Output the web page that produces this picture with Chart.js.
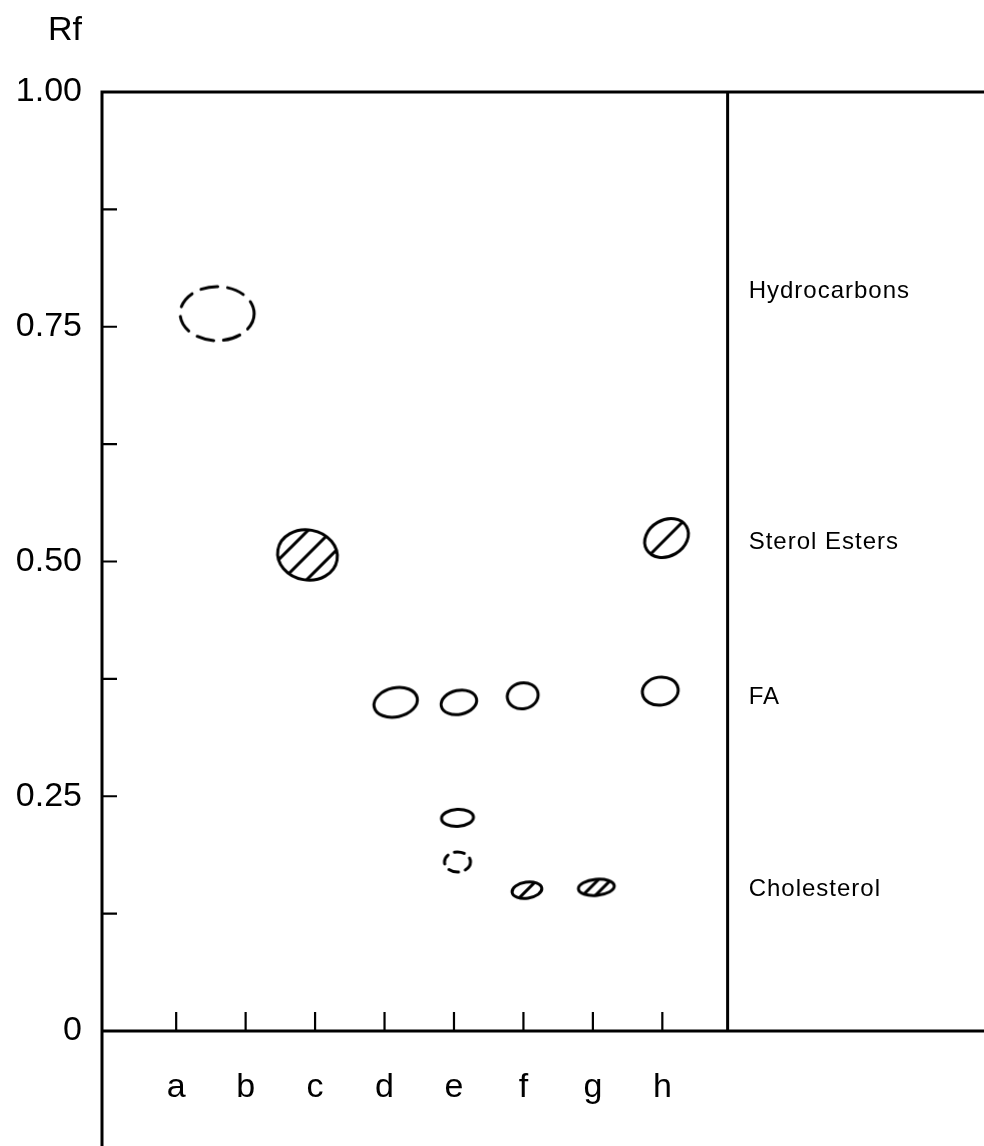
<!DOCTYPE html>
<html lang="en">
<head>
    <meta charset="UTF-8">
    <title>TLC plate</title>
    <style>
        body {
            margin: 0;
            background: #fff;
        }
        #wrap {
            width: 984px;
            height: 1146px;
        }
    </style>
</head>
<body>
    <div id="wrap">
        <canvas id="plate" width="984" height="1146"></canvas>
    </div>

    <script src="https://cdn.jsdelivr.net/npm/chart.js"></script>
    <script>
        // lanes on the plate
        const laneLabels = ['a', 'b', 'c', 'd', 'e', 'f', 'g', 'h'];
        const lanePos = [1, 2, 3, 4, 5, 6, 7, 8];

        // Rf axis
        const rfTicks = [0, 0.25, 0.5, 0.75, 1];
        const rfTickLabels = ['0', '0.25', '0.50', '0.75', '1.00'];
        const rfMinor = [0.125, 0.25, 0.375, 0.5, 0.625, 0.75, 0.875];

        // reference compounds on the right side
        const compoundNames = ['Hydrocarbons', 'Sterol Esters', 'FA', 'Cholesterol'];
        const compoundRf = [0.788, 0.52, 0.355, 0.151];

        // spots: lane position and Rf
        const spotLane = [1.59, 2.89, 4.16, 5.07, 5.99, 7.97, 5.05, 5.05, 6.05, 7.05, 8.06];
        const spotRf = [0.764, 0.507, 0.350, 0.350, 0.357, 0.362, 0.227, 0.180, 0.150, 0.153, 0.525];

        // where the plate ends (lane units)
        const plateEdge = 8.94;

        // how each spot looks
        const spotLook = [
            { rx: 37, ry: 27, rot: 0, kind: 'dashed', dash: [17, 10] },
            { rx: 30, ry: 25, rot: 10, kind: 'hatch', lines: [-17, 0, 17] },
            { rx: 22, ry: 14.5, rot: -12, kind: 'open' },
            { rx: 18, ry: 12, rot: -12, kind: 'open' },
            { rx: 15.5, ry: 13, rot: -10, kind: 'open' },
            { rx: 18, ry: 14, rot: -8, kind: 'open' },
            { rx: 16, ry: 8.5, rot: -3, kind: 'open' },
            { rx: 13, ry: 10, rot: 0, kind: 'dashed', dash: [10, 7] },
            { rx: 15, ry: 8, rot: -8, kind: 'hatch', lines: [0] },
            { rx: 18, ry: 8, rot: -5, kind: 'hatch', lines: [-4, 5] },
            { rx: 23, ry: 18, rot: -30, kind: 'hatch', lines: [0] }
        ];

        const FONT = '"Liberation Sans", Arial, sans-serif';

        function makeSpot(look) {
            const size = Math.ceil(2 * Math.max(look.rx, look.ry) + 10);
            const c = document.createElement('canvas');
            c.width = size;
            c.height = size;
            const g = c.getContext('2d');
            const m = size / 2;
            g.strokeStyle = '#000';
            g.lineWidth = 3;
            g.lineCap = 'round';
            const rot = look.rot * Math.PI / 180;

            if (look.kind === 'hatch') {
                g.save();
                g.beginPath();
                g.ellipse(m, m, look.rx, look.ry, rot, 0, Math.PI * 2);
                g.clip();
                look.lines.forEach(o => {
                    const px = m + o / Math.SQRT2;
                    const py = m + o / Math.SQRT2;
                    g.beginPath();
                    g.moveTo(px - size, py + size);
                    g.lineTo(px + size, py - size);
                    g.stroke();
                });
                g.restore();
            }

            g.beginPath();
            if (look.kind === 'dashed') {
                g.setLineDash(look.dash);
            }
            g.ellipse(m, m, look.rx, look.ry, rot, 0, Math.PI * 2);
            g.stroke();
            return c;
        }

        const spotImages = spotLook.map(makeSpot);

        const framePlugin = {
            id: 'plateFrame',
            beforeDatasetsDraw(chart) {
                const ctx = chart.ctx;
                const area = chart.chartArea;
                const xs = chart.scales.x;
                const ys = chart.scales.y;
                const sep = xs.getPixelForValue(plateEdge);

                ctx.save();
                ctx.strokeStyle = '#000';
                ctx.lineCap = 'square';
                ctx.lineWidth = 3;
                ctx.beginPath();
                // left edge runs down past the origin
                ctx.moveTo(area.left, area.top);
                ctx.lineTo(area.left, chart.height);
                // solvent front and origin
                ctx.moveTo(area.left, area.top);
                ctx.lineTo(chart.width, area.top);
                ctx.moveTo(area.left, area.bottom);
                ctx.lineTo(chart.width, area.bottom);
                // separator
                ctx.moveTo(sep, area.top);
                ctx.lineTo(sep, area.bottom);
                ctx.stroke();

                ctx.lineWidth = 2.2;
                ctx.lineCap = 'butt';
                ctx.beginPath();
                rfMinor.forEach(v => {
                    const y = ys.getPixelForValue(v);
                    ctx.moveTo(area.left, y);
                    ctx.lineTo(area.left + 15, y);
                });
                lanePos.forEach(v => {
                    const x = xs.getPixelForValue(v);
                    ctx.moveTo(x, area.bottom);
                    ctx.lineTo(x, area.bottom - 19);
                });
                ctx.stroke();

                ctx.fillStyle = '#000';
                ctx.textBaseline = 'middle';
                ctx.textAlign = 'left';
                ctx.font = '34px ' + FONT;
                ctx.fillText('Rf', area.left - 54, 31);

                ctx.font = '24px ' + FONT;
                ctx.letterSpacing = '1px';
                compoundNames.forEach((name, i) => {
                    ctx.fillText(name, sep + 21, ys.getPixelForValue(compoundRf[i]));
                });
                ctx.restore();
            }
        };

        new Chart(document.getElementById('plate'), {
            type: 'scatter',
            data: {
                datasets: [{
                    data: spotLane.map((x, i) => ({ x: x, y: spotRf[i] })),
                    pointStyle: ctx => spotImages[ctx.dataIndex],
                    pointRadius: 5,
                    clip: false
                }]
            },
            options: {
                responsive: false,
                animation: false,
                events: [],
                layout: {
                    padding: { top: 92, left: 0, right: 0, bottom: 0 }
                },
                plugins: {
                    legend: { display: false },
                    tooltip: { enabled: false }
                },
                scales: {
                    x: {
                        type: 'linear',
                        min: -0.068,
                        max: 12.545,
                        grid: { display: false, drawTicks: false },
                        border: { display: false },
                        afterBuildTicks: s => { s.ticks = lanePos.map(v => ({ value: v })); },
                        afterFit: s => { s.height = 115; },
                        ticks: {
                            autoSkip: false,
                            maxRotation: 0,
                            padding: 36,
                            color: '#000',
                            font: { family: FONT, size: 34 },
                            callback: (v, i) => laneLabels[i]
                        }
                    },
                    y: {
                        min: 0,
                        max: 1,
                        grid: { display: false, drawTicks: false },
                        border: { display: false },
                        afterBuildTicks: s => { s.ticks = rfTicks.map(v => ({ value: v })); },
                        afterFit: s => { s.width = 102; },
                        ticks: {
                            padding: 20,
                            color: '#000',
                            font: { family: FONT, size: 34 },
                            callback: (v, i) => rfTickLabels[i]
                        }
                    }
                }
            },
            plugins: [framePlugin]
        });
    </script>
</body>
</html>
